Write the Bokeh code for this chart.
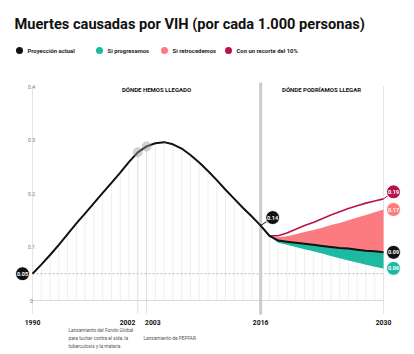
from bokeh.plotting import figure
from bokeh.models import Label, Range1d
from bokeh.core.properties import value
from bokeh.embed import file_html
from bokeh.resources import INLINE

# ---------------- data ----------------
TITLE = "Muertes causadas por VIH (por cada 1.000 personas)"
legend_labels = ["Proyección actual", "Si progresamos", "Si retrocedemos", "Con un recorte del 10%"]
section_labels = ["DÓNDE HEMOS LLEGADO", "DÓNDE PODRÍAMOS LLEGAR"]

hist_years = list(range(1990, 2017))
hist_values = [0.050, 0.067, 0.085, 0.104, 0.124, 0.144, 0.163, 0.182, 0.201, 0.220,
               0.239, 0.259, 0.277, 0.288, 0.294, 0.296, 0.292, 0.284, 0.272, 0.258,
               0.242, 0.225, 0.207, 0.190, 0.173, 0.157, 0.140]

proj_years = list(range(2016, 2031))
current_values = [0.140, 0.121, 0.112, 0.110, 0.108, 0.106, 0.104, 0.102, 0.100, 0.098,
                  0.097, 0.095, 0.093, 0.092, 0.090]

scen_years = list(range(2017, 2031))
progress_values = [0.121, 0.108, 0.104, 0.100, 0.096, 0.092, 0.088, 0.083, 0.079, 0.075,
                   0.071, 0.067, 0.063, 0.060]
setback_values = [0.121, 0.118, 0.120, 0.124, 0.128, 0.132, 0.136, 0.141, 0.145, 0.150,
                  0.155, 0.160, 0.165, 0.170]
cut10_values = [0.121, 0.121, 0.126, 0.133, 0.140, 0.146, 0.153, 0.160, 0.166, 0.172,
                0.177, 0.182, 0.186, 0.190]

x_ticks = [1990, 2002, 2003, 2016, 2030]
y_ticks = [0, 0.1, 0.2, 0.3, 0.4]
y_tick_labels = ["0", "0.1", "0.2", "0.3", "0.4"]

note_fondo = ["Lanzamiento del Fondo Global", "para luchar contra el sida, la", "tuberculosis y la malaria"]
note_pepfar = ["Lanzamiento de PEPFAR"]

# ---------------- layout / style ----------------
W, H = 414, 354
PX_PER_YEAR = 8.775
PX_PER_UNIT = 535.0
ORIGIN_X_PX = 32.0
ZERO_Y_PX = 300.0
x0 = hist_years[0] - ORIGIN_X_PX / PX_PER_YEAR
x1 = x0 + W / PX_PER_YEAR
y1 = ZERO_Y_PX / PX_PER_UNIT
y0 = y1 - H / PX_PER_UNIT


def X(px):
    return x0 + px / PX_PER_YEAR


def Y(py):
    return y1 - py / PX_PER_UNIT


def dX(d):
    return d / PX_PER_YEAR


def dY(d):
    return d / PX_PER_UNIT


BLACK = "#111111"
TEAL = "#1db9a1"
PINK = "#fb7b80"
CRIMSON = "#b8134f"
FONT = "Roboto"

p = figure(width=W, height=H, x_range=Range1d(x0, x1), y_range=Range1d(y0, y1),
           x_axis_type=None, y_axis_type=None, toolbar_location=None,
           output_backend="svg", min_border=0, outline_line_color=None,
           background_fill_color="white", border_fill_color="white")

first, last = hist_years[0], proj_years[-1]
all_years = hist_years + proj_years[1:]
all_values = hist_values + current_values[1:]
ymax = y_ticks[-1]

# stems
stem_years = [y for y in all_years[1:-1] if y not in x_ticks]
stem_tops = [v for y, v in zip(all_years, all_values) if y in stem_years]
p.segment(x0=stem_years, y0=[0] * len(stem_years), x1=stem_years, y1=stem_tops,
          line_color="#eeeeee", line_width=1)
# full-height edges
p.segment(x0=[first, last], y0=[Y(313)] * 2, x1=[first, last], y1=[ymax] * 2,
          line_color="#e3e3e3", line_width=1)
# 2002 / 2003 ticks
mid_ticks = [2002, 2003]
mid_vals = [hist_values[hist_years.index(t)] for t in mid_ticks]
p.segment(x0=mid_ticks, y0=[Y(313)] * 2, x1=mid_ticks, y1=mid_vals,
          line_color="#dcdcdc", line_width=1)
# baseline and dashed reference
p.segment(x0=[first], y0=[0], x1=[last], y1=[0], line_color="#d9d9d9", line_width=1)
p.segment(x0=[first], y0=[hist_values[0]], x1=[last], y1=[hist_values[0]],
          line_color="#a8a8a8", line_width=0.8, line_dash="2 2")
# 2016 divider
p.segment(x0=[2016], y0=[Y(314)], x1=[2016], y1=[Y(82)], line_color="#cccccc", line_width=3)

# scenario areas
current_tail = current_values[1:]
p.varea(x=scen_years, y1=current_tail, y2=setback_values, fill_color=PINK)
p.varea(x=scen_years, y1=progress_values, y2=current_tail, fill_color=TEAL)
p.line(scen_years, cut10_values, line_color=CRIMSON, line_width=1.6, line_join="round")

# main line
p.line(all_years, all_values, line_color=BLACK, line_width=2, line_join="round")

# highlight markers
p.scatter(mid_ticks, mid_vals, size=10, fill_color="#9a9a9a", fill_alpha=0.45, line_color=None)

# badges
badge_x = [first - dX(10), 2016 + dX(12), last + dX(10), last + dX(10), last + dX(10), last + dX(10)]
badge_y = [hist_values[0], hist_values[-1] + dY(8), cut10_values[-1] + dY(7),
           setback_values[-1], current_values[-1], progress_values[-1]]
badge_c = [BLACK, BLACK, CRIMSON, PINK, BLACK, TEAL]
badge_t = ["%.2f" % v for v in [hist_values[0], hist_values[-1], cut10_values[-1],
                                 setback_values[-1], current_values[-1], progress_values[-1]]]
p.segment(x0=[2016], y0=[hist_values[-1]], x1=[badge_x[1]], y1=[badge_y[1]],
          line_color=BLACK, line_width=1)
p.segment(x0=[last], y0=[cut10_values[-1]], x1=[badge_x[2]], y1=[badge_y[2]],
          line_color=CRIMSON, line_width=1)
p.scatter(badge_x, badge_y, size=14, fill_color=badge_c, line_color="white", line_width=1)
p.text(x=badge_x, y=badge_y, text=badge_t, text_color="white", text_font=value(FONT),
       text_font_style="bold", text_font_size="5.5px", text_align="center",
       text_baseline="middle")

# x tick labels (2002 / 2003 pushed apart as in the original)
tick_align = {2002: ("right", -2.5), 2003: ("left", -1.5)}
for t in x_ticks:
    align, off = tick_align.get(t, ("center", 0))
    p.text(x=[t + dX(off)], y=[Y(322)], text=[str(t)],
           text_color=BLACK, text_font=value(FONT), text_font_style="bold",
           text_font_size="6.8px", text_align=align, text_baseline="middle")
p.text(x=[first - dX(1)] * len(y_ticks), y=y_ticks, text=y_tick_labels,
       text_color="#777777", text_font=value(FONT), text_font_size="5px",
       text_align="center", text_baseline="middle")

# section headers
p.text(x=[X(156), X(321)], y=[Y(89)] * 2, text=section_labels, text_color=BLACK,
       text_font=value(FONT), text_font_style="bold", text_font_size="6px",
       text_align="center", text_baseline="middle")

# title
p.add_layout(Label(x=14, y=H - 23, x_units="screen", y_units="screen", text=TITLE,
                   text_font=FONT, text_font_style="bold", text_font_size="14.6px",
                   text_color=BLACK, text_baseline="middle"))

# legend
leg_dot_px = [19, 99, 164, 228]
leg_colors = [BLACK, TEAL, PINK, CRIMSON]
p.scatter([X(v) for v in leg_dot_px], [Y(50)] * 4, size=7, fill_color=leg_colors, line_color=None)
for px, lab in zip(leg_dot_px, legend_labels):
    p.add_layout(Label(x=px + 8, y=H - 50, x_units="screen", y_units="screen", text=lab,
                       text_font=FONT, text_font_style="bold", text_font_size="5.9px",
                       text_color="#222222", text_baseline="middle"))

# notes
for i, line in enumerate(note_fondo):
    p.add_layout(Label(x=68, y=H - (330 + 8 * i), x_units="screen", y_units="screen", text=line,
                       text_font=FONT, text_font_size="4.8px", text_color="#555555",
                       text_baseline="middle"))
for line in note_pepfar:
    p.add_layout(Label(x=143, y=H - 338, x_units="screen", y_units="screen", text=line,
                       text_font=FONT, text_font_size="4.8px", text_color="#555555",
                       text_baseline="middle"))

open("out.html", "w").write(file_html(p, INLINE))
